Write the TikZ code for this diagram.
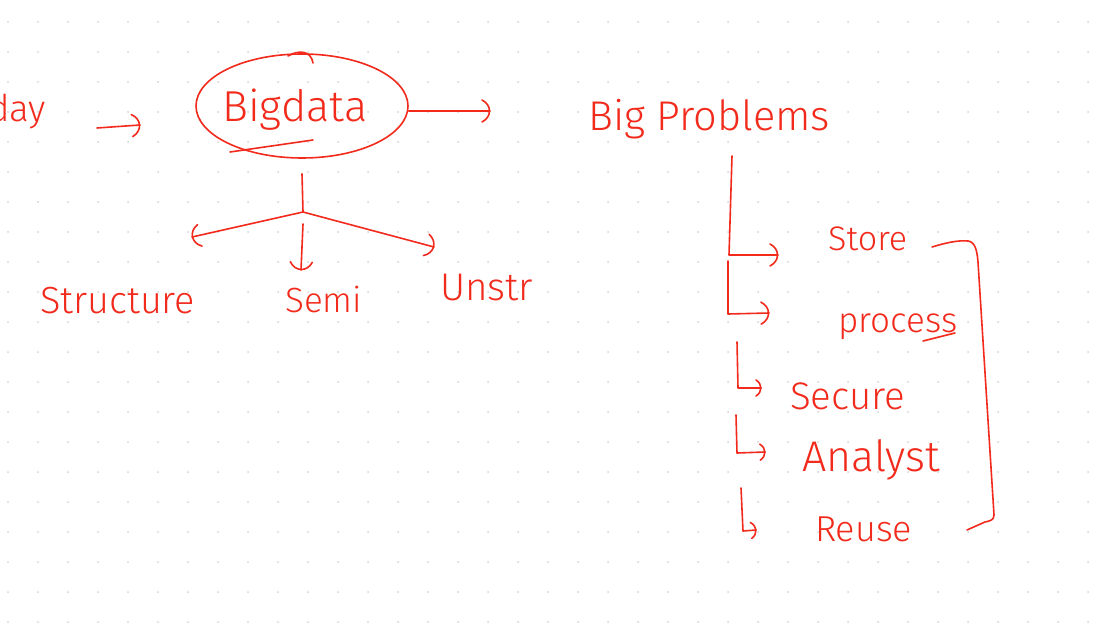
\documentclass[tikz,border=0pt]{standalone}
\usepackage{fontspec}
\newfontfamily\handfont{Fira Sans Light}
\usetikzlibrary{shapes.geometric}
\definecolor{ink}{RGB}{242,42,28}
\definecolor{dotc}{RGB}{212,212,212}
\newcommand{\hwtext}[2]{\resizebox{#1pt}{!}{\handfont #2}}
\begin{document}
\begin{tikzpicture}[x=1pt,y=-1pt,
  ink/.style={draw=ink, line width=1.6pt, line cap=round, line join=round},
  bigtip/.pic={\draw[ink] (-8,-11) .. controls (2,-6) and (2,6) .. (-8,11);},
  smalltip/.pic={\draw[ink] (-5,-8) .. controls (1.5,-4) and (1.5,4) .. (-5,8);},
  lbl/.style={inner sep=0pt, anchor=base west, text=ink, font=\handfont\fontsize{30}{36}\selectfont}]
\useasboundingbox (0,0) rectangle (1099,628);
\fill[white] (0,0) rectangle (1099,628);
\clip (0,0) rectangle (1099,628);
\foreach \i in {0,...,36} \foreach \j in {0,...,20} \fill[dotc] (8+30*\i,22+30*\j) circle (1pt);

% left
\node[lbl] (day) at (-12,122) {\hwtext{58}{day}};
\coordinate (a1s) at (97,128);
\coordinate (a1e) at (140,125);
\draw[ink] (a1s) -- (a1e);
\pic[rotate=4] at (a1e) {bigtip};

% Bigdata
\node[ellipse, draw=ink, line width=1.6pt, minimum width=212pt, minimum height=104pt, inner sep=0pt] (ell) at (302,106) {};
\node[lbl] (bd) at (222,122) {\hwtext{145}{Bigdata}};
\draw[ink] (230,152) -- (313,140);
\draw[ink] (288,56) .. controls (298,50) and (311,50) .. (313,63);
\coordinate (a2e) at (490,111);
\draw[ink] ([yshift=-5pt]ell.east) -- (a2e);
\pic at (a2e) {bigtip};

% tree under Bigdata
\coordinate (br) at (303,212);
\coordinate (cl) at (192,237);
\coordinate (ms) at (303,224);
\coordinate (cm) at (301,270);
\coordinate (cr) at (434,247);
\draw[ink] ([yshift=-15pt]ell.south) -- (br);
\draw[ink] (br) -- (cl);
\pic[rotate=192] at (cl) {bigtip};
\draw[ink] (ms) -- (cm);
\pic[rotate=-92] at (cm) {bigtip};
\draw[ink] (br) -- (cr);
\pic[rotate=-15] at (cr) {bigtip};

\node[lbl] (str) at (40,313) {\hwtext{155}{Structure}};
\node[lbl] (semi) at (285,312) {\hwtext{77}{Semi}};
\node[lbl] (unstr) at (440,300) {\hwtext{93}{Unstr}};

% Big problems
\node[lbl] (bp) at (588,131) {\hwtext{242}{Big Problems}};
\coordinate (t0) at (732,156);
\coordinate (t1) at (729,255);
\coordinate (t1e) at (778,255);
\draw[ink] (t0) -- (t1) -- (t1e);
\pic at (t1e) {bigtip};
\coordinate (t2) at (728,261);
\coordinate (t2b) at (728,314);
\coordinate (t2e) at (769,313);
\draw[ink] (t2) -- (t2b) -- (t2e);
\pic[rotate=1] at (t2e) {bigtip};
\coordinate (t3) at (737,342);
\coordinate (t3b) at (738,388);
\coordinate (t3e) at (761,388);
\draw[ink] (t3) -- (t3b) -- (t3e);
\pic at (t3e) {smalltip};
\coordinate (t4) at (736,415);
\coordinate (t4b) at (737,453);
\coordinate (t4e) at (765,452);
\draw[ink] (t4) -- (t4b) -- (t4e);
\pic[rotate=2] at (t4e) {smalltip};
\coordinate (t5) at (741,488);
\coordinate (t5b) at (743,531);
\coordinate (t5e) at (756,530);
\draw[ink] (t5) -- (t5b) -- (t5e);
\pic[rotate=5] at (t5e) {smalltip};

\node[lbl] (store) at (828,250) {\hwtext{79}{Store}};
\node[lbl] (proc) at (838,332) {\hwtext{119}{process}};
\draw[ink] (923,341) -- (955,333);
\node[lbl] (sec) at (790,409) {\hwtext{115}{Secure}};
\node[lbl] (ana) at (802,471) {\hwtext{138}{Analyst}};
\node[lbl] (reuse) at (815,541) {\hwtext{97}{Reuse}};

% right bracket
\draw[ink] (932,247) .. controls (945,243) and (958,240) .. (968,241)
  .. controls (975,242) and (977,250) .. (978,262) -- (994,515)
  .. controls (994,520) and (990,521) .. (985,522) -- (967,530);
\end{tikzpicture}
\end{document}
